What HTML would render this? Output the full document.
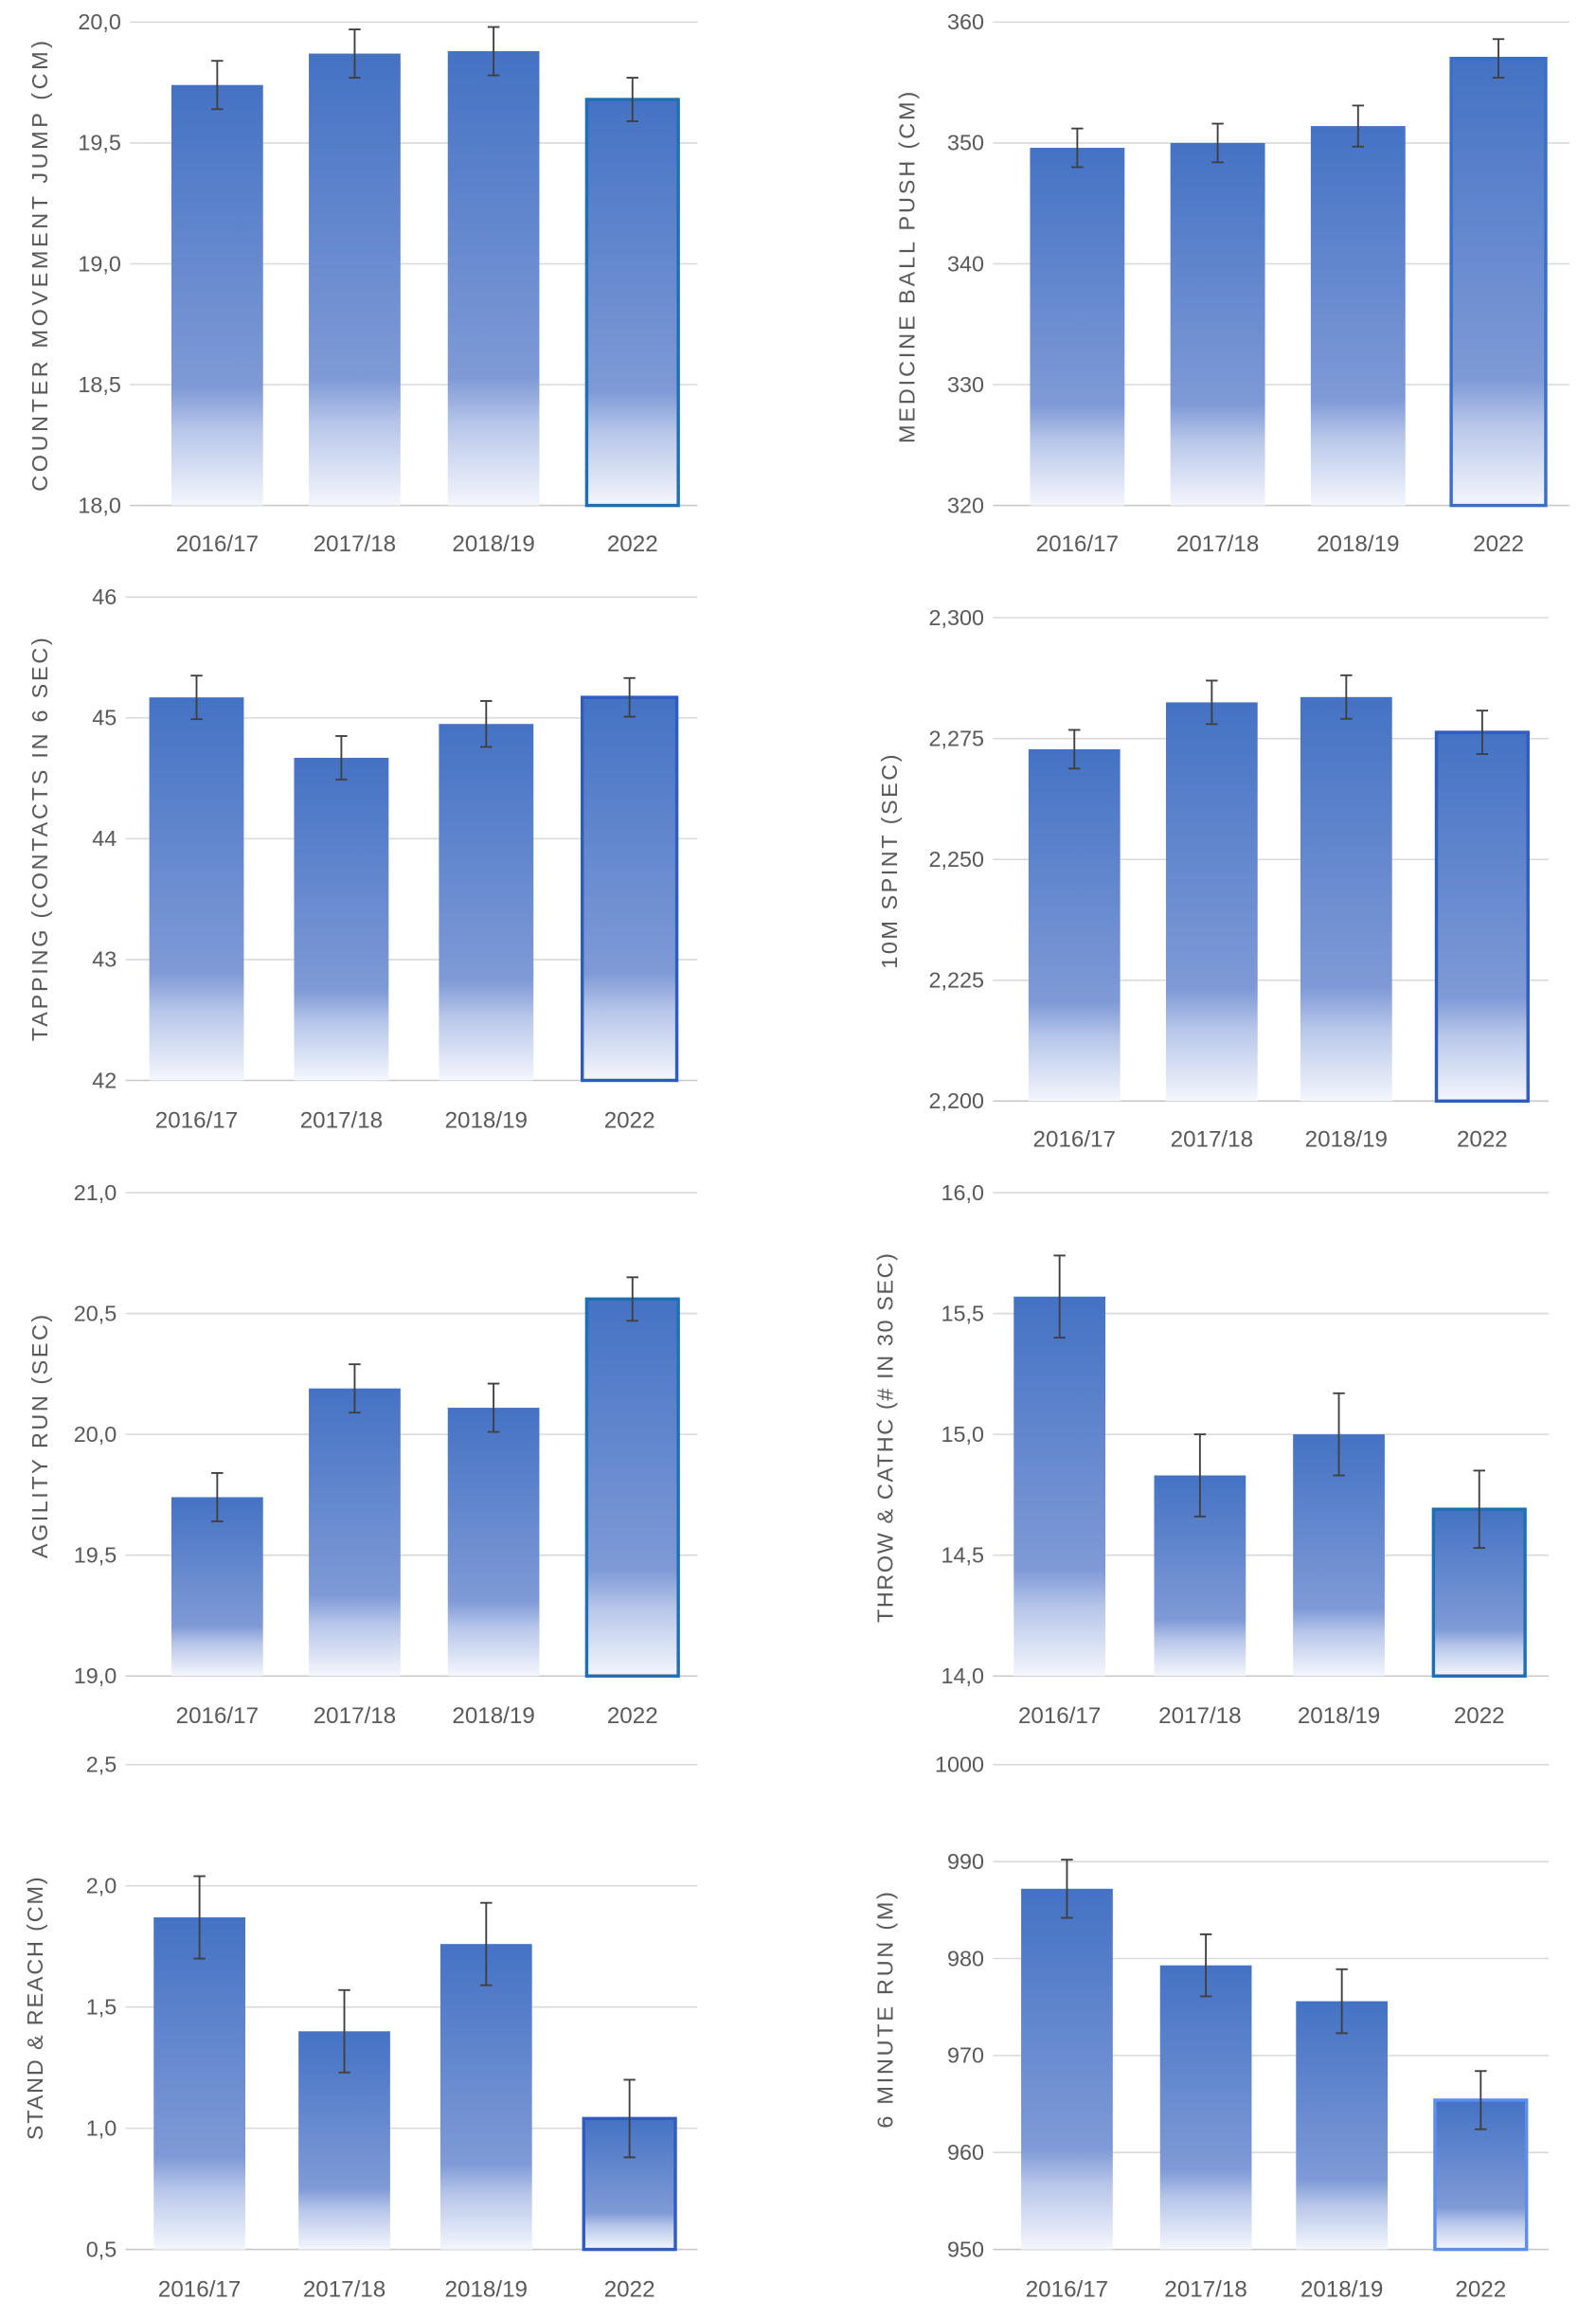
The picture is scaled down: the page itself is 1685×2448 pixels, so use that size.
<!DOCTYPE html>
<html><head><meta charset="utf-8">
<style>
html,body{margin:0;padding:0;background:#fff;}
svg{display:block;}
text{font-family:"Liberation Sans",sans-serif;fill:#595959;}
</style></head>
<body>
<svg id="chart" width="1685" height="2448" viewBox="0 0 1080 1569.07" preserveAspectRatio="none" xmlns="http://www.w3.org/2000/svg">
<defs>
<linearGradient id="barGrad" x1="0" y1="0" x2="0" y2="1">
<stop offset="0" stop-color="#4472c4"/>
<stop offset="0.72" stop-color="#7f9ad6"/>
<stop offset="0.82" stop-color="#b7c6e9"/>
<stop offset="1" stop-color="#f4f6fc"/>
</linearGradient>
</defs>
</svg>
<script>
const categories = ["2016/17","2017/18","2018/19","2022"];
const titles = ["COUNTER MOVEMENT  JUMP (CM)","MEDICINE BALL PUSH (CM)","TAPPING (CONTACTS  IN 6 SEC)","10M SPINT (SEC)","AGILITY RUN (SEC)","THROW & CATHC (# IN 30 SEC)","STAND & REACH (CM)","6 MINUTE RUN (M)"];
const valuesCmj = [19.74, 19.87, 19.88, 19.68];
const errorsCmj = [0.10, 0.10, 0.10, 0.09];
const valuesMbp = [349.6, 350.0, 351.4, 357.0];
const errorsMbp = [1.6, 1.6, 1.7, 1.6];
const valuesTap = [45.17, 44.67, 44.95, 45.17];
const errorsTap = [0.18, 0.18, 0.19, 0.16];
const valuesSprint = [2.2728, 2.2825, 2.2836, 2.2763];
const errorsSprint = [0.004, 0.0045, 0.0045, 0.0045];
const valuesAgility = [19.74, 20.19, 20.11, 20.56];
const errorsAgility = [0.10, 0.10, 0.10, 0.09];
const valuesThrow = [15.57, 14.83, 15.00, 14.69];
const errorsThrow = [0.17, 0.17, 0.17, 0.16];
const valuesReach = [1.87, 1.40, 1.76, 1.04];
const errorsReach = [0.17, 0.17, 0.17, 0.16];
const valuesRun = [987.2, 979.3, 975.6, 965.4];
const errorsRun = [3.0, 3.2, 3.3, 3.0];
const ticksCmj = ["18,0","18,5","19,0","19,5","20,0"];
const ticksMbp = ["320","330","340","350","360"];
const ticksTap = ["42","43","44","45","46"];
const ticksSprint = ["2,200","2,225","2,250","2,275","2,300"];
const ticksAgility = ["19,0","19,5","20,0","20,5","21,0"];
const ticksThrow = ["14,0","14,5","15,0","15,5","16,0"];
const ticksReach = ["0,5","1,0","1,5","2,0","2,5"];
const ticksRun = ["950","960","970","980","990","1000"];

const panels = [
 {v:valuesCmj,e:errorsCmj,t:ticksCmj,min:18,max:20,x0:88,x1:472,yTop:15,yBot:342,cx:[147,240,334,428],bw:62,ly:367,tx:28,ty:180,tl:305,lastStroke:"#1f6fb5"},
 {v:valuesMbp,e:errorsMbp,t:ticksMbp,min:320,max:360,x0:672,x1:1062,yTop:15,yBot:342,cx:[729,824,919,1014],bw:64,ly:367,tx:615,ty:181,tl:238,lastStroke:"#3b6ec8"},
 {v:valuesTap,e:errorsTap,t:ticksTap,min:42,max:46,x0:85,x1:472,yTop:404,yBot:731,cx:[133,231,329,426],bw:64,ly:757,tx:28,ty:568,tl:273,lastStroke:"#2f5cc0"},
 {v:valuesSprint,e:errorsSprint,t:ticksSprint,min:2.2,max:2.3,x0:672,x1:1048,yTop:418,yBot:745,cx:[727,820,911,1003],bw:62,ly:770,tx:603,ty:583,tl:145,lastStroke:"#2f5cc0"},
 {v:valuesAgility,e:errorsAgility,t:ticksAgility,min:19,max:21,x0:85,x1:472,yTop:807,yBot:1134,cx:[147,240,334,428],bw:62,ly:1160,tx:28,ty:972,tl:165,lastStroke:"#1f6fb5"},
 {v:valuesThrow,e:errorsThrow,t:ticksThrow,min:14,max:16,x0:672,x1:1048,yTop:807,yBot:1134,cx:[717,812,906,1001],bw:62,ly:1160,tx:600,ty:973,tl:250,lastStroke:"#1f6fb5"},
 {v:valuesReach,e:errorsReach,t:ticksReach,min:0.5,max:2.5,x0:85,x1:472,yTop:1194,yBot:1522,cx:[135,233,329,426],bw:62,ly:1548,tx:25,ty:1359,tl:178,lastStroke:"#2f5cc0"},
 {v:valuesRun,e:errorsRun,t:ticksRun,min:950,max:1000,x0:672,x1:1048,yTop:1194,yBot:1522,cx:[722,816,908,1002],bw:62,ly:1548,tx:600,ty:1360,tl:160,lastStroke:"#5b8ef0"}
];
const NS="http://www.w3.org/2000/svg";
const svg=document.getElementById('chart');
function mk(tag,attrs,parent){const el=document.createElementNS(NS,tag);for(const k in attrs)el.setAttribute(k,attrs[k]);(parent||svg).appendChild(el);return el;}
panels.forEach((p,pi)=>{
  const g=mk('g',{});
  
  
  const y=v=>p.yBot-(v-p.min)/(p.max-p.min)*(p.yBot-p.yTop);
  const n=p.t.length;
  p.t.forEach((lab,i)=>{
    const val=p.min+(p.max-p.min)*i/(n-1);
    const yy=y(val);
    const gl=mk('line',{x1:p.x0,x2:p.x1,y1:yy,y2:yy,stroke:i===0?'#c8c8c8':'#d9d9d9','stroke-width':1},g);
    
    
    const tl=mk('text',{x:p.x0-6,y:yy+5,'text-anchor':'end','font-size':15},g);
    tl.textContent=lab;
    
    
  });
  p.v.forEach((val,i)=>{
    const top=y(val), cx=p.cx[i];
    const last=i===p.v.length-1;
    const r=mk('rect',{x:cx-p.bw/2,y:top,width:p.bw,height:p.yBot-top,fill:'url(#barGrad)'},g);
    if(last){r.setAttribute('stroke',p.lastStroke);r.setAttribute('stroke-width',2.2);}
    
    
    const eh=y(val+p.e[i]), el=y(val-p.e[i]);
    const eg=mk('g',{stroke:'#404040','stroke-width':1.2},g);
    
    
    mk('line',{x1:cx,x2:cx,y1:eh,y2:el},eg);
    mk('line',{x1:cx-4,x2:cx+4,y1:eh,y2:eh},eg);
    mk('line',{x1:cx-4,x2:cx+4,y1:el,y2:el},eg);
    const xl=mk('text',{x:cx,y:p.ly+6,'text-anchor':'middle','font-size':15.5},g);
    xl.textContent=categories[i];
    
    
  });
  const tt=mk('text',{x:p.tx,y:p.ty,'text-anchor':'middle','font-size':15,textLength:p.tl,lengthAdjust:'spacing',transform:'rotate(-90 '+p.tx+' '+p.ty+')','dominant-baseline':'middle'},g);
  tt.textContent=titles[pi];
  
  
});
</script>
</body></html>
